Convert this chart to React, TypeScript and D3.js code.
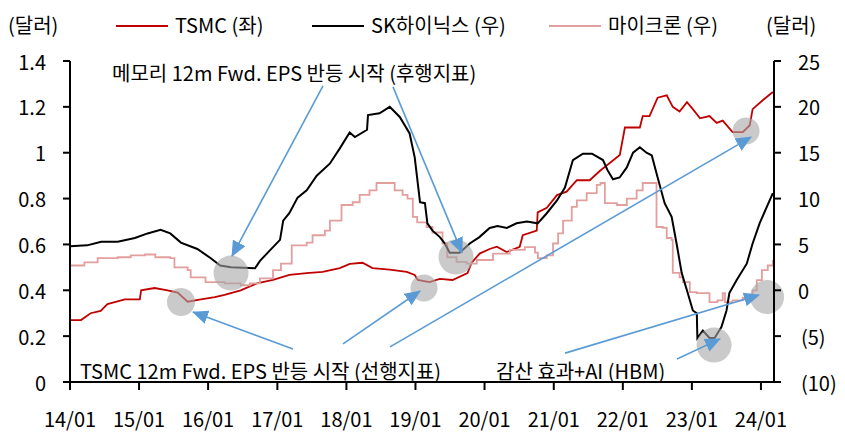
import * as d3 from "d3";

const W = 845;
const H = 432;
const FONT = "'Noto Sans CJK KR', 'Noto Sans', sans-serif";
const FS = 20;

// 축/틱
const xTickDates = ["2014-01-01", "2015-01-01", "2016-01-01", "2017-01-01", "2018-01-01", "2019-01-01", "2020-01-01", "2021-01-01", "2022-01-01", "2023-01-01", "2024-01-01"];
const xTickLabels = ["14/01", "15/01", "16/01", "17/01", "18/01", "19/01", "20/01", "21/01", "22/01", "23/01", "24/01"];
const leftTicks = [0, 0.2, 0.4, 0.6, 0.8, 1, 1.2, 1.4];
const leftTickLabels = ["0", "0.2", "0.4", "0.6", "0.8", "1", "1.2", "1.4"];
const rightTicks = [-10, -5, 0, 5, 10, 15, 20, 25];
const rightTickLabels = ["(10)", "(5)", "0", "5", "10", "15", "20", "25"];

// TSMC 12m fwd EPS (좌, 달러)
const tsmcDates = ["2014-01-01", "2014-02-28", "2014-04-20", "2014-06-12", "2014-07-18", "2014-10-18", "2015-01-05", "2015-01-12", "2015-03-24", "2015-06-01", "2015-07-24", "2015-09-15", "2015-11-24", "2016-02-06", "2016-03-28", "2016-06-21", "2016-09-15", "2016-12-09", "2017-03-06", "2017-06-05", "2017-08-28", "2017-11-27", "2018-01-19", "2018-03-27", "2018-05-19", "2018-08-18", "2018-11-16", "2018-12-28", "2019-01-13", "2019-03-16", "2019-05-09", "2019-07-16", "2019-10-03", "2019-10-25", "2019-12-06", "2020-01-28", "2020-03-06", "2020-04-27", "2020-07-05", "2020-07-21", "2020-10-03", "2020-10-08", "2020-11-25", "2021-01-18", "2021-03-10", "2021-05-03", "2021-07-10", "2021-09-01", "2021-12-16", "2022-01-12", "2022-04-01", "2022-04-16", "2022-05-22", "2022-07-04", "2022-08-21", "2022-09-22", "2022-10-28", "2022-12-06", "2023-01-06", "2023-02-13", "2023-04-04", "2023-05-12", "2023-06-13", "2023-08-04", "2023-09-27", "2023-11-03", "2023-11-18", "2024-01-12", "2024-03-04"];
const tsmcValues = [0.27, 0.27, 0.3, 0.31, 0.34, 0.36, 0.36, 0.4, 0.41, 0.4, 0.39, 0.35, 0.36, 0.37, 0.38, 0.4, 0.43, 0.445, 0.467, 0.475, 0.48, 0.497, 0.515, 0.52, 0.497, 0.49, 0.48, 0.467, 0.445, 0.436, 0.45, 0.445, 0.475, 0.52, 0.56, 0.58, 0.59, 0.567, 0.59, 0.64, 0.66, 0.74, 0.76, 0.815, 0.83, 0.88, 0.88, 0.92, 0.99, 1.11, 1.11, 1.16, 1.16, 1.24, 1.25, 1.2, 1.18, 1.22, 1.19, 1.15, 1.16, 1.13, 1.14, 1.09, 1.09, 1.12, 1.19, 1.23, 1.265];

// SK하이닉스 (우, 달러)
const skDates = ["2014-01-01", "2014-04-01", "2014-06-15", "2014-09-10", "2014-12-10", "2015-02-15", "2015-04-25", "2015-06-15", "2015-08-10", "2015-11-05", "2016-01-15", "2016-03-05", "2016-05-01", "2016-09-05", "2016-10-01", "2016-11-20", "2017-01-15", "2017-02-01", "2017-03-05", "2017-04-18", "2017-06-05", "2017-07-28", "2017-10-05", "2017-11-28", "2018-01-18", "2018-02-15", "2018-04-20", "2018-04-25", "2018-06-25", "2018-08-18", "2018-10-10", "2018-12-01", "2018-12-28", "2019-01-25", "2019-02-20", "2019-03-05", "2019-04-01", "2019-05-10", "2019-06-05", "2019-07-01", "2019-08-22", "2019-10-15", "2019-12-05", "2020-01-28", "2020-03-10", "2020-04-28", "2020-06-18", "2020-08-12", "2020-10-08", "2020-11-25", "2021-01-18", "2021-03-01", "2021-04-12", "2021-06-04", "2021-07-22", "2021-09-18", "2021-10-12", "2021-11-10", "2021-12-15", "2022-01-22", "2022-02-24", "2022-04-01", "2022-05-06", "2022-06-03", "2022-07-04", "2022-08-10", "2022-09-16", "2022-10-12", "2022-11-08", "2022-12-10", "2023-01-06", "2023-01-27", "2023-01-30", "2023-02-28", "2023-04-04", "2023-05-01", "2023-06-06", "2023-07-03", "2023-07-18", "2023-08-25", "2023-10-18", "2023-11-18", "2023-12-25", "2024-02-01", "2024-03-04"];
const skValues = [4.8, 4.9, 5.3, 5.3, 5.7, 6.2, 6.6, 6.2, 5.2, 4.5, 3.5, 2.7, 2.5, 2.4, 3.2, 4.3, 5.5, 7.6, 8.4, 10.1, 10.9, 12.5, 13.8, 15.5, 17.2, 16.7, 17.5, 19.1, 19.3, 20.0, 18.9, 17.1, 14.5, 9.6, 9.5, 7.3, 6.5, 5.8, 5.1, 4.1, 4.1, 5.1, 5.8, 6.8, 7.0, 6.8, 7.3, 7.5, 7.3, 8.4, 9.8, 11.2, 14.2, 14.9, 14.9, 14.2, 13.1, 12.1, 12.3, 13.4, 15.0, 15.6, 15.0, 14.7, 12.3, 9.5, 8.0, 5.1, 1.9, -0.3, -2.2, -2.5, -5.2, -4.4, -5.2, -5.2, -4.0, -2.2, -0.3, 1.1, 2.9, 5.1, 7.3, 9.1, 10.6];

// 마이크론 (우, 달러)
const muDates = ["2014-01-01", "2014-03-18", "2014-05-27", "2014-09-10", "2014-11-18", "2015-02-01", "2015-03-28", "2015-06-15", "2015-07-07", "2015-09-15", "2015-10-01", "2015-12-18", "2016-03-28", "2016-06-21", "2016-08-09", "2016-10-01", "2016-12-09", "2017-01-20", "2017-03-18", "2017-06-05", "2017-07-06", "2017-09-09", "2017-10-06", "2017-12-06", "2018-02-03", "2018-03-12", "2018-05-03", "2018-06-09", "2018-09-13", "2018-10-25", "2018-11-20", "2018-12-18", "2019-01-10", "2019-03-01", "2019-04-01", "2019-05-24", "2019-06-18", "2019-08-06", "2019-09-28", "2019-11-21", "2020-02-15", "2020-05-13", "2020-08-01", "2020-09-24", "2020-10-09", "2020-11-25", "2020-12-28", "2021-01-24", "2021-02-19", "2021-04-06", "2021-05-03", "2021-06-24", "2021-08-16", "2021-09-05", "2021-09-28", "2021-12-01", "2022-01-22", "2022-03-15", "2022-04-16", "2022-06-28", "2022-08-01", "2022-08-21", "2022-09-16", "2022-09-22", "2022-10-28", "2022-11-15", "2022-12-21", "2023-01-27", "2023-04-04", "2023-05-16", "2023-06-13", "2023-06-25", "2023-08-04", "2023-09-27", "2023-11-18", "2023-12-10", "2024-01-06", "2024-02-06", "2024-03-04"];
const muValues = [2.7, 3.05, 3.5, 3.6, 3.8, 3.9, 3.6, 3.5, 2.5, 2.2, 1.4, 0.9, 0.75, 0.55, 0.75, 1.3, 2.2, 2.9, 4.9, 5.2, 6.0, 6.5, 7.6, 9.3, 9.6, 10.4, 10.9, 11.7, 10.9, 10.4, 10.0, 8.0, 7.4, 6.9, 6.3, 5.1, 3.6, 3.1, 2.9, 3.3, 4.0, 4.4, 4.7, 4.1, 3.5, 3.8, 5.1, 6.2, 7.6, 9.1, 9.8, 10.6, 11.5, 11.7, 9.5, 9.3, 10.0, 10.9, 11.7, 6.9, 6.8, 5.7, 5.5, 1.9, 1.4, 0.9, -0.2, -0.3, -1.3, -1.1, -0.3, -1.3, -1.1, -0.8, 0.0, 1.1, 2.2, 2.7, 3.3];

// 주석: 회색 원 (연도, 좌축값, 반지름)
const circleYears = [2016.33, 2015.606, 2019.123, 2019.586, 2023.783, 2023.32, 2024.087];
const circleValues = [0.475, 0.349, 0.41, 0.545, 1.095, 0.161, 0.371];
const circleRadii = [17.5, 14, 13.5, 17.5, 13.5, 17.5, 17];

// 주석: 화살표 (시작 연도/값 -> 끝 연도/값)
const arrowFrom: [number, number][] = [[2017.661, 1.291], [2018.674, 1.287], [2017.227, 0.144], [2017.951, 0.166], [2018.631, 0.153], [2021.164, 0.126], [2022.784, 0.1]];
const arrowTo: [number, number][] = [[2016.344, 0.549], [2019.673, 0.563], [2015.78, 0.305], [2019.065, 0.397], [2023.855, 1.068], [2023.971, 0.379], [2023.407, 0.188]];

const noteTexts = ["메모리 12m Fwd. EPS 반등 시작 (후행지표)", "TSMC 12m Fwd. EPS 반등 시작 (선행지표)", "감산 효과+AI (HBM)"];
const noteAt: [number, number][] = [[2014.608, 1.352], [2014.145, 0.052], [2020.165, 0.052]];

const parse = d3.utcParse("%Y-%m-%d");
const yearDate = (t: number) => new Date(Date.UTC(2014, 0, 1) + (t - 2014) * 365.25 * 864e5);

const x = d3.scaleUtc().domain([parse("2014-01-01")!, parse("2024-03-10")!]).range([70, 774]);
const yL = d3.scaleLinear().domain([0, 1.4]).range([382, 61]);
const yR = d3.scaleLinear().domain([-10, 25]).range([382, 61]);

const toPts = (ds: string[], vs: number[]) => ds.map((d, i) => [parse(d)!, vs[i]] as [Date, number]);

const RED = "#C00000";
const PINK = "#E39E9E";
const BLUE = "#5B9BD5";

export default function App() {
  const lineL = d3.line<[Date, number]>().x((d) => x(d[0])).y((d) => yL(d[1]));
  const lineR = d3.line<[Date, number]>().x((d) => x(d[0])).y((d) => yR(d[1]));
  const stepR = d3.line<[Date, number]>().x((d) => x(d[0])).y((d) => yR(d[1])).curve(d3.curveStepAfter);

  const legend = [
    { x1: 116, label: "TSMC (좌)", color: RED },
    { x1: 312, label: "SK하이닉스 (우)", color: "#000" },
    { x1: 549, label: "마이크론 (우)", color: PINK },
  ];

  return (
    <div style={{ position: "fixed", left: 0, top: 0, background: "#fff" }}>
      <svg width={W} height={H} style={{ display: "block", fontFamily: FONT }}>
        <defs>
          <marker id="ah" markerUnits="userSpaceOnUse" markerWidth={16} markerHeight={14} refX={15} refY={7} orient="auto">
            <path d="M0,0 L16,7 L0,14 z" fill={BLUE} />
          </marker>
        </defs>
        <rect width={W} height={H} fill="#fff" />

        {/* 단위 */}
        <text x={8} y={24} fontSize={FS} dominantBaseline="central">(달러)</text>
        <text x={766} y={24} fontSize={FS} dominantBaseline="central">(달러)</text>

        {/* 범례 */}
        {legend.map((l) => (
          <g key={l.label}>
            <line x1={l.x1} x2={l.x1 + 52} y1={26} y2={26} stroke={l.color} strokeWidth={2} />
            <text x={l.x1 + 59} y={24} fontSize={FS} dominantBaseline="central">{l.label}</text>
          </g>
        ))}

        {/* 시리즈 */}
        <path d={lineL(toPts(tsmcDates, tsmcValues)) ?? ""} fill="none" stroke={RED} strokeWidth={1.8} />
        <path d={stepR(toPts(muDates, muValues)) ?? ""} fill="none" stroke={PINK} strokeWidth={1.8} />
        <path d={lineR(toPts(skDates, skValues)) ?? ""} fill="none" stroke="#000" strokeWidth={2} />

        {/* 회색 원 */}
        {circleYears.map((t, i) => (
          <circle key={i} cx={x(yearDate(t))} cy={yL(circleValues[i])} r={circleRadii[i]} fill="#A6A6A6" fillOpacity={0.6} />
        ))}

        {/* 화살표 */}
        {arrowFrom.map((a, i) => (
          <line key={i} x1={x(yearDate(a[0]))} y1={yL(a[1])} x2={x(yearDate(arrowTo[i][0]))} y2={yL(arrowTo[i][1])} stroke={BLUE} strokeWidth={1.6} markerEnd="url(#ah)" />
        ))}

        {/* 주석 텍스트 */}
        {noteTexts.map((s, i) => (
          <text key={i} x={x(yearDate(noteAt[i][0]))} y={yL(noteAt[i][1])} fontSize={FS} dominantBaseline="central">{s}</text>
        ))}

        {/* 축 */}
        <line x1={70} x2={70} y1={yL(1.4)} y2={yL(0)} stroke="#000" strokeWidth={2} />
        <line x1={774} x2={774} y1={yR(25)} y2={yR(-10)} stroke="#000" strokeWidth={2} />
        <line x1={69} x2={775} y1={yL(0)} y2={yL(0)} stroke="#000" strokeWidth={2} />
        {leftTicks.map((v, i) => (
          <g key={v}>
            <line x1={63} x2={70} y1={yL(v)} y2={yL(v)} stroke="#000" strokeWidth={2} />
            <text x={46} y={yL(v)} fontSize={FS} textAnchor="end" dominantBaseline="central">{leftTickLabels[i]}</text>
          </g>
        ))}
        {rightTicks.map((v, i) => (
          <g key={v}>
            <line x1={774} x2={781} y1={yR(v)} y2={yR(v)} stroke="#000" strokeWidth={2} />
            <text x={v < 0 ? 801 : 798} y={yR(v)} fontSize={FS} dominantBaseline="central">{rightTickLabels[i]}</text>
          </g>
        ))}
        {xTickDates.map((d, i) => (
          <g key={d}>
            <line x1={x(parse(d)!)} x2={x(parse(d)!)} y1={382} y2={390} stroke="#000" strokeWidth={2} />
            <text x={x(parse(d)!)} y={418} fontSize={FS} textAnchor="middle" dominantBaseline="central">{xTickLabels[i]}</text>
          </g>
        ))}
      </svg>
    </div>
  );
}
